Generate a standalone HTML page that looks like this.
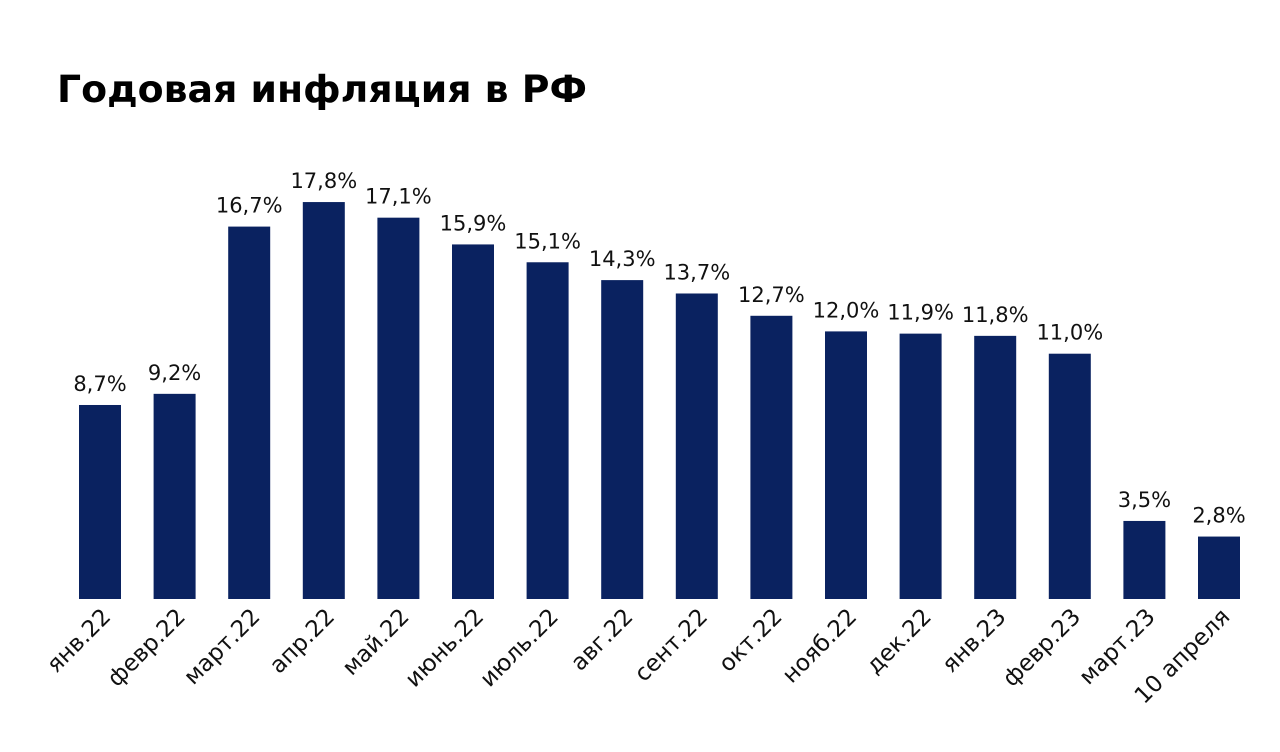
<!DOCTYPE html>
<html><head><meta charset="utf-8"><style>
body{margin:0;background:#fff;width:1280px;height:748px;overflow:hidden;font-family:"DejaVu Sans","Liberation Sans",sans-serif}
</style></head><body>
<svg id="chart" width="1280" height="748" xmlns="http://www.w3.org/2000/svg">
<text x="57" y="102" font-size="37" font-weight="bold" fill="#000" font-family="DejaVu Sans, Liberation Sans, sans-serif" textLength="530" lengthAdjust="spacingAndGlyphs">Годовая инфляция в РФ</text>
<g id="bars"></g>
</svg>
<script>
const categories = ["янв.22","февр.22","март.22","апр.22","май.22","июнь.22","июль.22","авг.22","сент.22","окт.22","нояб.22","дек.22","янв.23","февр.23","март.23","10 апреля"];
const values = [8.7,9.2,16.7,17.8,17.1,15.9,15.1,14.3,13.7,12.7,12.0,11.9,11.8,11.0,3.5,2.8];
const valueLabels = ["8,7%","9,2%","16,7%","17,8%","17,1%","15,9%","15,1%","14,3%","13,7%","12,7%","12,0%","11,9%","11,8%","11,0%","3,5%","2,8%"];
const NS="http://www.w3.org/2000/svg";
const baseY=599, pxPerUnit=22.3, x0=100, step=74.6, barW=42;
const xScale=i=>x0+i*step;
const yScale=v=>baseY-v*pxPerUnit;
const g=document.getElementById('bars');
categories.forEach((c,i)=>{
  const cx=xScale(i), top=yScale(values[i]);
  const r=document.createElementNS(NS,'rect');
  
  
  r.setAttribute('x',cx-barW/2);r.setAttribute('y',top);
  r.setAttribute('width',barW);r.setAttribute('height',baseY-top);
  r.setAttribute('fill','#0a2260');
  g.appendChild(r);
  const t=document.createElementNS(NS,'text');
  
  
  t.setAttribute('x',cx);t.setAttribute('y',top-14);
  t.setAttribute('text-anchor','middle');t.setAttribute('font-size','21');t.setAttribute('fill','#111');
  t.textContent=valueLabels[i];
  g.appendChild(t);
  const l=document.createElementNS(NS,'text');
  
  
  const lx=cx+12, ly=618;
  l.setAttribute('x',lx);l.setAttribute('y',ly);
  l.setAttribute('text-anchor','end');l.setAttribute('font-size','23');l.setAttribute('fill','#111');
  l.setAttribute('transform','rotate(-45 '+lx+' '+ly+')');
  l.textContent=c;
  g.appendChild(l);
});
</script>
</body></html>
